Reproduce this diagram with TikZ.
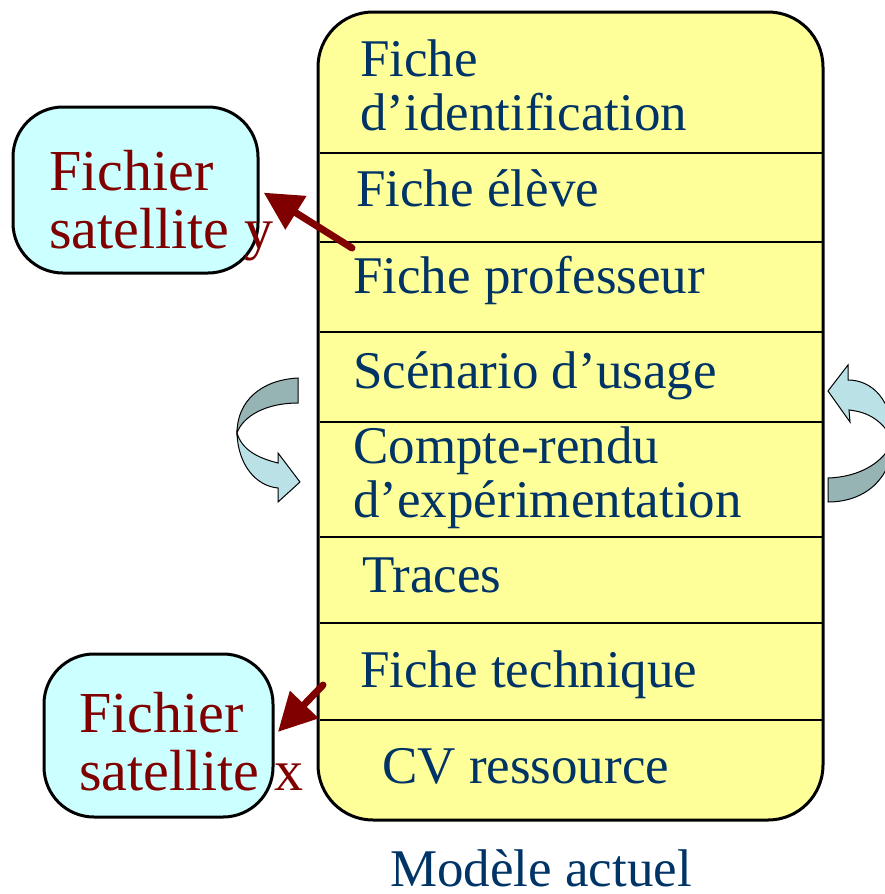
\documentclass[tikz,border=0pt]{standalone}
\usepackage{fontspec}
\setmainfont{Liberation Serif}
\usetikzlibrary{arrows.meta}
\definecolor{rowblue}{HTML}{003366}
\definecolor{satred}{HTML}{800000}
\definecolor{boxyellow}{HTML}{FFFF99}
\definecolor{satcyan}{HTML}{CCFFFF}
\definecolor{turndark}{HTML}{96B4B4}
\definecolor{turnlight}{HTML}{B9E1E6}
\begin{document}
\begin{tikzpicture}[x=1pt,y=-1pt,
	rowtext/.style={anchor=base west, inner sep=0pt, text=rowblue, align=left, font=\fontsize{53}{54}\selectfont},
	sattext/.style={anchor=base west, inner sep=0pt, text=satred, align=left, font=\fontsize{58}{58}\selectfont},
	satbox/.style={draw=black, line width=3pt, fill=satcyan, rounded corners=50pt},
	link/.style={draw=satred, line width=7pt, line cap=round, -{Triangle[length=38pt,width=38pt]}, shorten >=5pt},
	turn/.style={draw=black, line width=1pt}]
	\useasboundingbox (0,0) rectangle (885,894);
	
	% modele actuel
	\node[draw=black, line width=3pt, fill=boxyellow, rounded corners=55pt, minimum width=505pt, minimum height=808pt] (model) at (570.5,416) {};
	\foreach \y in {153,242,332,422,537,623,720}
		\draw[line width=2.5pt] (320,\y) -- (822,\y);
	
	\node[rowtext] (ident) at (360,130) {Fiche\\d’identification};
	\node[rowtext] (eleve) at (356,206) {Fiche élève};
	\node[rowtext] (prof) at (353,293) {Fiche professeur};
	\node[rowtext] (scenario) at (353,388) {Scénario d’usage};
	\node[rowtext] (compte) at (353,517) {Compte-rendu\\d’expérimentation};
	\node[rowtext] (traces) at (362,592) {Traces};
	\node[rowtext] (technique) at (360,687) {Fiche technique};
	\node[rowtext] (cv) at (382,783) {CV ressource};
	\node[rowtext] (caption) at (390,886) {Modèle actuel};
	
	% fichiers satellites
	\node[satbox, minimum width=245pt, minimum height=166pt] (saty) at (135.5,190) {};
	\node[sattext] (satytext) at (49,248) {Fichier\\satellite y};
	\node[satbox, minimum width=229pt, minimum height=163pt] (satx) at (158.5,735.5) {};
	\node[sattext] (satxtext) at (79,790) {Fichier\\satellite x};
	
	\coordinate (fromprof) at (352,248);
	\coordinate (fromtech) at (323,685);
	\draw[link] (fromprof) -- (saty.east);
	\draw[link] (fromtech) -- (satx.east);
	
	% fleches courbes
	\filldraw[turn, fill=turnlight] (237,433) .. controls (238,465) and (256,486) .. (278,488) -- (278,502) -- (300,482) -- (278,453) -- (278,463) .. controls (258,458) and (242,450) .. cycle;
	\filldraw[turn, fill=turndark] (298,378) .. controls (260,380) and (237,402) .. (237,433) .. controls (243,416) and (266,403) .. (298,403) -- cycle;
	\filldraw[turn, fill=turnlight] (893,440) .. controls (893,400) and (872,380) .. (848,380) -- (848,365) -- (828,391) -- (850,422) -- (849,410) .. controls (868,412) and (882,420) .. cycle;
	\filldraw[turn, fill=turndark] (828,478) .. controls (860,477) and (885,462) .. (893,440) .. controls (893,475) and (868,502) .. (828,502) -- cycle;
\end{tikzpicture}
\end{document}
